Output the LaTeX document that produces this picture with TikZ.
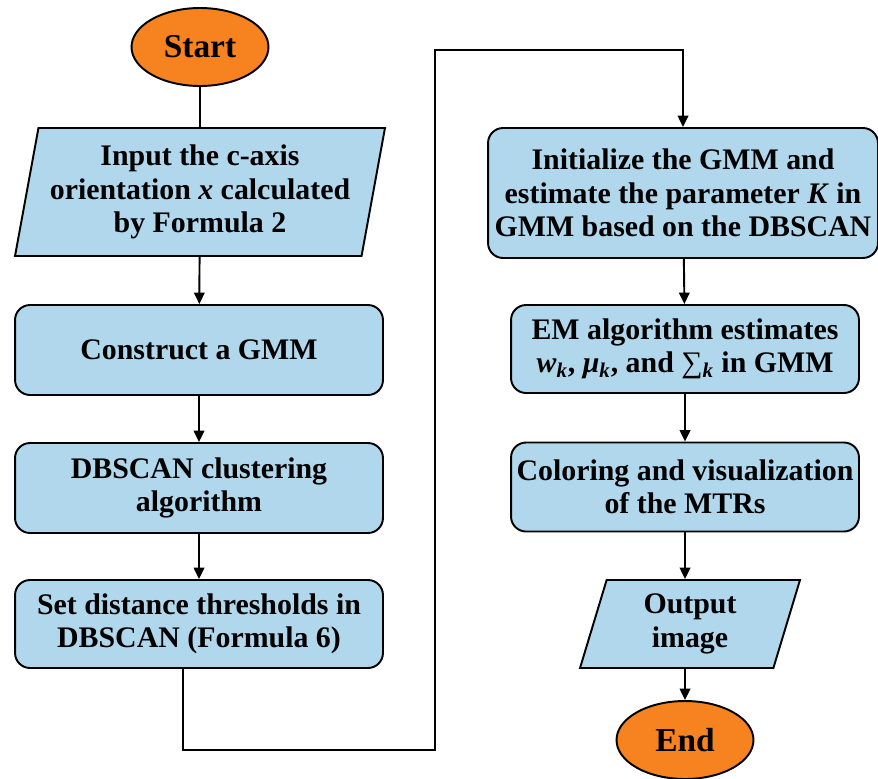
\documentclass[tikz,border=0pt]{standalone}
\usepackage{fontspec}
\setmainfont{Liberation Serif}
\usepackage{tikz}
\usetikzlibrary{arrows.meta,positioning,shapes,calc}
\definecolor{boxblue}{RGB}{176,215,236}
\definecolor{termorange}{RGB}{246,130,32}

\begin{document}
\begin{tikzpicture}[x=0.02cm, y=-0.02cm, line width=1.1pt,
    every node/.style={font=\fontsize{17}{19}\selectfont\bfseries, align=center},
    terminal/.style={ellipse, draw, fill=termorange, minimum width=2.74cm, minimum height=1.56cm,
        font=\fontsize{19}{21}\selectfont\bfseries},
    process/.style={rectangle, rounded corners=0.3cm, draw, fill=boxblue, inner sep=0pt},
    io/.style={trapezium, trapezium stretches body, draw, fill=boxblue, inner sep=0pt},
    arr/.style={-{Triangle[length=6.5pt,width=6pt]}}]
    \useasboundingbox (0,0) rectangle (878,778);
    % left column
    \node[terminal] (start) at (200,47) {Start};
    \node[io, trapezium left angle=76, trapezium right angle=104,
        minimum width=7.4cm, minimum height=2.56cm] (input) at (200,192)
        {Input the c-axis\\orientation \textit{x} calculated\\by Formula 2};
    \node[process, minimum width=7.36cm, minimum height=1.8cm] (gmm) at (199,350) {Construct a GMM};
    \node[process, minimum width=7.36cm, minimum height=1.8cm] (dbscan) at (199,488)
        {DBSCAN clustering\\algorithm};
    \node[process, minimum width=7.36cm, minimum height=1.76cm] (thresh) at (199,624)
        {Set distance thresholds in\\DBSCAN (Formula 6)};
    % right column
    \node[process, minimum width=7.8cm, minimum height=2.6cm] (init) at (683,193)
        {Initialize the GMM and\\estimate the parameter \textit{K} in\\GMM based on the DBSCAN};
    \node[process, minimum width=6.96cm, minimum height=1.76cm] (em) at (685,349)
        {EM algorithm estimates\\\textit{w}\textsubscript{\textit{k}}, \textit{μ}\textsubscript{\textit{k}}, and \textmd{∑}\textsubscript{\textit{k}} in GMM};
    \node[process, minimum width=6.96cm, minimum height=1.78cm] (color) at (685,487)
        {Coloring and visualization\\of the MTRs};
    \node[io, trapezium left angle=66, trapezium right angle=114,
        minimum width=4.4cm, minimum height=1.76cm] (output) at (690,624) {Output\\image};
    \node[terminal] (end) at (685,740) {End};

    \coordinate (turn1) at (183,750);
    \coordinate (turn2) at (435,750);
    \coordinate (turn3) at (435,50);

    \draw (start) -- (input);
    \draw[arr] (input) -- (gmm);
    \draw[arr] (gmm) -- (dbscan);
    \draw[arr] (dbscan) -- (thresh);
    \draw[arr] (thresh.south -| turn1) -- (turn1) -- (turn2) -- (turn3) -| (init.north);
    \draw[arr] (init) -- (em);
    \draw[arr] (em) -- (color);
    \draw[arr] (color) -- (output.north -| color);
    \draw[arr] (output.south -| end) -- (end);
\end{tikzpicture}
\end{document}
